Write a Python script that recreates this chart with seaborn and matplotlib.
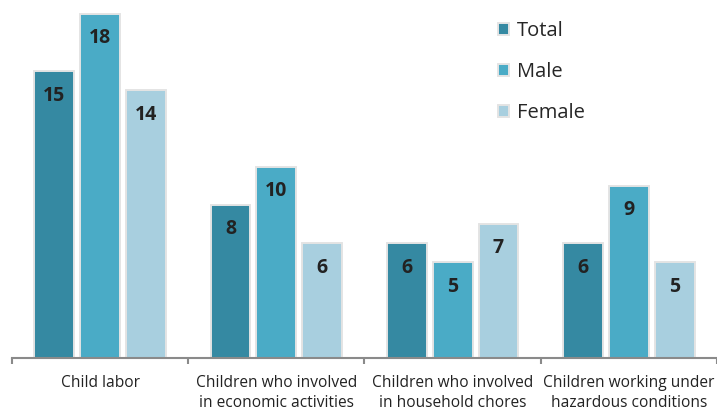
import matplotlib
matplotlib.use("Agg")
import matplotlib.pyplot as plt
import seaborn as sns
import pandas as pd

categories = [
    "Child labor",
    "Children who involved\nin economic activities",
    "Children who involved\nin household chores",
    "Children working under\nhazardous conditions",
]
series = ["Total", "Male", "Female"]
total = [15, 8, 6, 6]
male = [18, 10, 5, 9]
female = [14, 6, 7, 5]

colors = ["#3589a2", "#4aabc6", "#a8cfdf"]

rows = []
for name, vals in zip(series, [total, male, female]):
    for cat, v in zip(categories, vals):
        rows.append({"category": cat, "series": name, "value": v})
df = pd.DataFrame(rows)

sns.set_theme(style="white")
plt.rcParams["font.family"] = ["Open Sans", "DejaVu Sans"]

fig = plt.figure(figsize=(7.17, 4.11), dpi=100)
ax = fig.add_axes([0.0167, 0.129, 0.9833, 0.871])

sns.barplot(
    data=df, x="category", y="value", hue="series",
    order=categories, hue_order=series, palette=colors,
    width=0.78, gap=0.13, saturation=1,
    edgecolor="#e4e4e4", linewidth=1.4, ax=ax,
)

# value labels inside the top of each bar
for container in ax.containers:
    for bar in container:
        h = bar.get_height()
        ax.annotate(
            f"{h:.0f}",
            xy=(bar.get_x() + bar.get_width() / 2, h),
            xytext=(0, -17.5), textcoords="offset points",
            ha="center", va="center",
            fontsize=14, fontweight="bold", color="#222222",
        )

ax.set_xlim(-0.5, 3.5)
ax.set_ylim(0, 18.73)
ax.set_xlabel("")
ax.set_ylabel("")
ax.set_yticks([])

for side in ["top", "right", "left"]:
    ax.spines[side].set_visible(False)
ax.spines["bottom"].set_color("#8a8a8a")
ax.spines["bottom"].set_linewidth(1.5)

ax.set_xticks(range(len(categories)))
ax.set_xticklabels(categories, fontsize=11.2, color="#222222", linespacing=1.38)
ax.set_xticks([-0.5, 0.5, 1.5, 2.5, 3.5], minor=True)
ax.tick_params(axis="x", which="major", length=0, pad=12)
ax.tick_params(axis="x", which="minor", length=4, width=1.5, color="#8a8a8a",
               direction="out", bottom=True)

handles, labels = ax.get_legend_handles_labels()
ax.legend(
    handles, labels,
    loc="upper left", bbox_to_anchor=(0.675, 0.983), bbox_transform=fig.transFigure,
    frameon=False, fontsize=14.5,
    handlelength=0.55, handleheight=0.55, handletextpad=0.4,
    labelspacing=1.05, borderaxespad=0.3,
)

fig.savefig("out.png", dpi=100, facecolor="white")
